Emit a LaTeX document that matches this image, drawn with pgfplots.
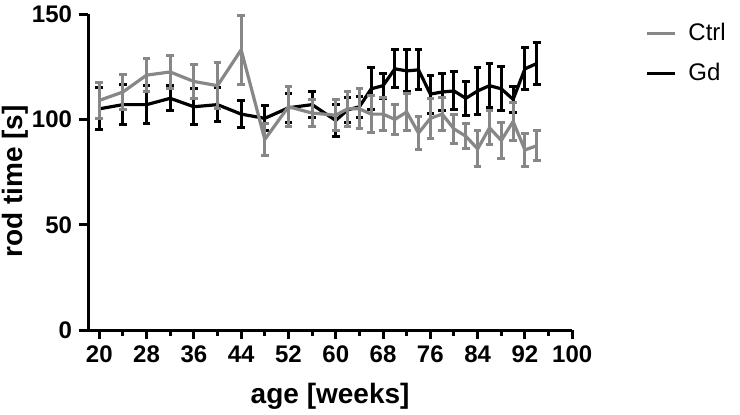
\documentclass[border=0pt]{standalone}
\usepackage{fontspec}
\setmainfont{Liberation Sans}
\usepackage{pgfplots}
\usepackage{pgfplotstable}
\pgfplotsset{compat=1.18}
\definecolor{ctrlgray}{RGB}{135,135,135}

\pgfplotstableread{
x y e
20 109 8.5
24 113 8.5
28 121 8
32 122.5 8
36 118 8
40 116 11
44 133 16.5
48 90.5 7.5
52 106 9.5
56 103 6.5
60 102 7.5
62 105 8.3
64 105 9.5
66 102.5 8.7
68 102.5 8
70 100 7
72 103.5 8.7
74 93.5 8
76 100.5 9.5
78 102.5 8
80 95.5 7
82 92 6
84 86 8.5
86 96 8
88 90 8.7
90 99 9
92 85.5 8
94 87.5 7
}\ctrl

\pgfplotstableread{
x y e
20 105 10
24 107 9.5
28 107 9
32 110 6
36 106 8.5
40 107 8
44 102.5 6.5
48 100.5 6
52 105.5 7
56 107 6
60 99.5 7.5
62 104.5 6
64 106 5
66 114.5 10
68 116 6
70 124 9
72 123 10
74 123.5 9.5
76 112 9
78 113 9
80 113.5 9
82 110 8
84 113.5 11
86 116 10.5
88 114.5 10.5
90 109.5 6
92 124 10
94 126.5 10
}\gd

\begin{document}
\begin{tikzpicture}
\useasboundingbox (-44pt,-42pt) rectangle (325.85pt,165pt);
\begin{axis}[
  at={(0,0)}, anchor=south west,
  scale only axis, width=242pt, height=158pt,
  xmin=18.1, xmax=100, ymin=0, ymax=150,
  axis lines*=left,
  axis line style={line width=1.5pt, -},
  xtick={20,28,...,100}, minor xtick={24,32,...,96},
  ytick={0,50,100,150},
  tick align=outside,
  major tick length=4.5pt, minor tick length=2.8pt,
  every tick/.style={line width=1.5pt, black},
  /pgf/number format/assume math mode=true,
  tick label style={font=\fontsize{12}{14}\selectfont\bfseries},
  xlabel={age [weeks]}, ylabel={rod time [s]},
  label style={font=\fontsize{14}{16}\selectfont\bfseries},
  xlabel style={yshift=-3pt},
  ylabel style={at={(axis description cs:-0.151,0.47)}, anchor=center},
  reverse legend,
  legend style={at={(1.150,0.875)}, anchor=west, draw=none, fill=none,
    font=\fontsize{12}{14}\selectfont, inner sep=0pt, row sep=6pt,
    cells={anchor=west}},
  legend image code/.code={\draw[#1, line width=1.6pt] (0pt,0pt) -- (14pt,0pt);\path (18pt,0pt);},
  every axis plot/.append style={line width=1.6pt},
]
\addplot[black, line width=1.6pt,
  error bars/.cd, y dir=both, y explicit,
  error bar style={line width=1.5pt, black},
  error mark options={rotate=90, mark size=1.9pt, line width=1.5pt, black}]
  table[x=x, y=y, y error=e] {\gd};
\addlegendentry{Gd}
\addplot[ctrlgray, line width=1.6pt,
  error bars/.cd, y dir=both, y explicit,
  error bar style={line width=1.5pt, ctrlgray},
  error mark options={rotate=90, mark size=1.9pt, line width=1.5pt, ctrlgray}]
  table[x=x, y=y, y error=e] {\ctrl};
\addlegendentry{Ctrl}
\end{axis}
\end{tikzpicture}
\end{document}
